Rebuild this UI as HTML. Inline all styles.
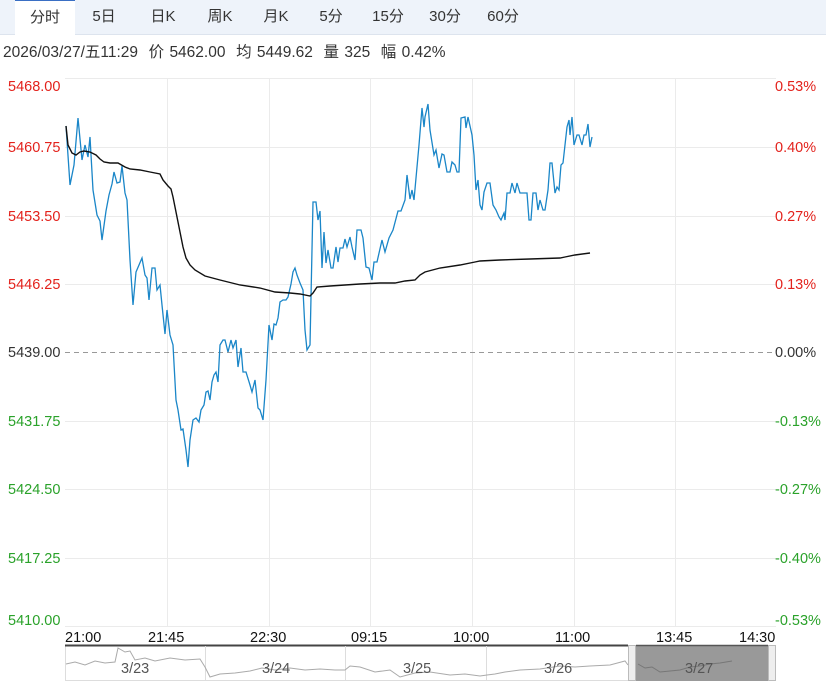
<!DOCTYPE html>
<html><head><meta charset="utf-8"><style>
body{margin:0;width:826px;height:683px;background:#fff;font-family:"Liberation Sans","Noto Sans CJK SC",sans-serif;overflow:hidden;position:relative}
.tabs{position:absolute;left:0;top:0;width:826px;height:34px;background:#eef3fa;border-bottom:1px solid #dde4ee}
.tab{position:absolute;top:0;height:34px;line-height:33px;font-size:15px;color:#333;text-align:center}
.info{position:absolute;left:3px;top:40px;font-size:15.5px;color:#333;white-space:nowrap;word-spacing:1px}
</style></head><body>
<div class="tabs">
<div class="tab" style="left:15px;width:60px;background:#fff;border-top:1px solid #3a6fc4;height:35px">分时</div>
<div class="tab" style="left:86px;width:36px">5日</div>
<div class="tab" style="left:145px;width:36px">日K</div>
<div class="tab" style="left:202px;width:36px">周K</div>
<div class="tab" style="left:258px;width:36px">月K</div>
<div class="tab" style="left:313px;width:36px">5分</div>
<div class="tab" style="left:366px;width:44px">15分</div>
<div class="tab" style="left:423px;width:44px">30分</div>
<div class="tab" style="left:481px;width:44px">60分</div>
</div>
<div class="info">2026/03/27/五11:29&nbsp; 价 5462.00&nbsp; 均 5449.62&nbsp; 量 325&nbsp; 幅 0.42%</div>
<svg width="826" height="683" style="position:absolute;left:0;top:0" font-family="Liberation Sans, sans-serif">
<g stroke="#ebebeb" stroke-width="1">
<line x1="65" y1="78.5" x2="776" y2="78.5"/>
<line x1="65" y1="147.5" x2="776" y2="147.5"/>
<line x1="65" y1="216.5" x2="776" y2="216.5"/>
<line x1="65" y1="284.5" x2="776" y2="284.5"/>
<line x1="65" y1="421.5" x2="776" y2="421.5"/>
<line x1="65" y1="489.5" x2="776" y2="489.5"/>
<line x1="65" y1="558.5" x2="776" y2="558.5"/>
<line x1="65" y1="626.5" x2="776" y2="626.5"/>
<line x1="167.5" y1="78" x2="167.5" y2="626"/>
<line x1="269.5" y1="78" x2="269.5" y2="626"/>
<line x1="370.5" y1="78" x2="370.5" y2="626"/>
<line x1="472.5" y1="78" x2="472.5" y2="626"/>
<line x1="574.5" y1="78" x2="574.5" y2="626"/>
<line x1="675.5" y1="78" x2="675.5" y2="626"/>
</g>
<line x1="65" y1="352.5" x2="776" y2="352.5" stroke="#999" stroke-dasharray="5,4"/>
<g font-size="14.5" fill="#e3221c">
<text x="8" y="91">5468.00</text><text x="8" y="152">5460.75</text><text x="8" y="221">5453.50</text><text x="8" y="289">5446.25</text>
<text x="775" y="91">0.53%</text><text x="775" y="152">0.40%</text><text x="775" y="221">0.27%</text><text x="775" y="289">0.13%</text>
</g>
<text x="8" y="357" font-size="14.5" fill="#333">5439.00</text><text x="775" y="357" font-size="14.5" fill="#333">0.00%</text>
<g font-size="14.5" fill="#2aa22a">
<text x="8" y="426">5431.75</text><text x="8" y="494">5424.50</text><text x="8" y="563">5417.25</text><text x="8" y="625">5410.00</text>
<text x="775" y="426">-0.13%</text><text x="775" y="494">-0.27%</text><text x="775" y="563">-0.40%</text><text x="775" y="625">-0.53%</text>
</g>
<polyline fill="none" stroke="#1a86c8" stroke-width="1.3" points="66,126 70,185 74,165 78,118 82,160 85,145 88,157 90,137 93,190 97,215 100,221 102,240 106,211 109,195 112,184 114,172 117,183 120,182 122,166 125,193 127,200 130,260 133,305 136,272 139,265 142,258 145,275 147,278 149,300 152,268 155,268 157,290 160,285 162,305 165,334 167,310 170,335 173,345 176,400 178,410 181,430 183,429 186,450 188,467 190,440 193,420 196,418 199,422 201,410 204,405 206,392 208,391 210,400 212,382 214,375 216,372 218,382 220,345 223,340 225,340 228,352 231,340 233,348 236,340 238,367 241,348 243,372 246,372 250,385 252,392 255,380 258,408 260,410 263,420 266,380 269,325 272,340 274,324 276,325 278,318 280,302 283,300 286,300 288,297 291,284 293,272 295,268 297,275 300,283 303,290 305,330 307,350 310,345 313,202 316,202 318,220 320,211 322,268 324,232 326,263 328,250 331,268 333,268 336,247 338,262 340,248 343,248 345,239 347,247 350,237 352,247 355,260 357,230 361,230 363,238 366,267 369,268 372,280 374,262 377,262 382,240 385,252 389,238 393,230 398,211 401,211 405,200 407,175 410,199 412,190 414,200 419,145 422,108 424,127 425,117 428,104 430,130 434,155 436,150 439,168 442,154 444,155 447,172 450,172 452,162 455,165 457,172 459,172 461,118 465,117 466,128 468,117 472,135 474,155 476,190 478,180 480,205 482,210 484,192 487,183 490,183 493,205 496,210 499,217 501,220 504,213 505,220 507,193 510,193 512,183 515,193 517,183 520,193 527,193 529,220 531,220 533,193 536,193 538,210 540,200 543,210 545,210 548,190 550,163 552,163 555,193 557,187 559,190 561,165 563,163 567,127 569,120 570,135 572,117 574,145 577,135 579,135 582,145 584,135 586,135 588,124 590,147 592,137"/>
<polyline fill="none" stroke="#111" stroke-width="1.4" points="66,126 68,145 72,153 76,155 80,152 84,151 90,152 96,155 100,159 104,162 110,163 118,163 125,167 130,169 140,170 150,172 160,174 163,180 168,186 171,189 173,197 175,207 178,222 180,232 183,247 186,258 190,265 195,270 205,276 220,280 240,285 260,288 275,292 290,293 300,294 310,296 313,293 317,287 330,286 360,284 380,283 395,283 405,281 415,280 420,275 425,272 440,268 460,265 475,262 480,261 500,260 530,259 560,258 565,257 575,255 590,253"/>
<g font-size="14.5" fill="#111">
<text x="65" y="642">21:00</text><text x="148" y="642">21:45</text><text x="250" y="642">22:30</text><text x="351" y="642">09:15</text><text x="453" y="642">10:00</text><text x="555" y="642">11:00</text><text x="656" y="642">13:45</text><text x="739" y="642">14:30</text>
</g>
<rect x="65.5" y="645.5" width="710" height="35" fill="#fff" stroke="#ddd"/>
<line x1="65" y1="645.5" x2="628" y2="645.5" stroke="#444" stroke-width="2"/>
<g stroke="#ddd"><line x1="205.5" y1="646" x2="205.5" y2="680"/><line x1="345.5" y1="646" x2="345.5" y2="680"/><line x1="486.5" y1="646" x2="486.5" y2="680"/></g>
<rect x="636" y="645" width="132" height="36" fill="#999"/>
<line x1="636" y1="645.5" x2="768" y2="645.5" stroke="#555" stroke-width="1.5"/>
<rect x="628.5" y="645.5" width="7" height="35" fill="#eee" stroke="#bbb"/>
<rect x="768.5" y="645.5" width="7" height="35" fill="#eee" stroke="#bbb"/>
<polyline fill="none" stroke="#aaa" stroke-width="1" points="66,664 75,662 85,665 95,661 105,663 115,662 118,648 125,652 130,651 135,660 145,658 155,661 170,658 185,660 200,659 205,667 210,677 220,674 235,673 250,671 262,668 275,670 290,668 305,670 320,669 335,670 345,670 350,666 360,667 375,672 390,670 400,677 415,673 430,672 450,675 465,674 480,676 487,675 495,674 505,672 520,670 540,669 560,666 575,667 590,666 610,665 625,661 628,665"/>
<polyline fill="none" stroke="#777" stroke-width="1" points="638,664 645,668 652,667 660,672 670,671 680,670 690,667 700,666 710,664 720,663 732,661"/>
<g font-size="14.5" fill="#555"><text x="121" y="673">3/23</text><text x="262" y="673">3/24</text><text x="403" y="673">3/25</text><text x="544" y="673">3/26</text><text x="685" y="673">3/27</text></g>
</svg>
</body></html>
